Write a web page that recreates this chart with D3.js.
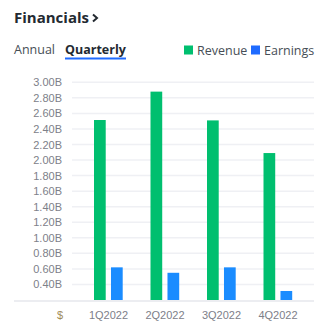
<!DOCTYPE html>
<html><head><meta charset="utf-8">
<script src="https://cdn.jsdelivr.net/npm/d3@7"></script>
<style>
body{margin:0;background:#fff;}
svg{display:block;}
</style></head>
<body>
<script>
const categories = ["1Q2022","2Q2022","3Q2022","4Q2022"];
const seriesNames = ["Revenue","Earnings"];
const revenue = [2.515, 2.88, 2.51, 2.09];
const earnings = [0.62, 0.55, 0.62, 0.316];
const yTicks = [0.4,0.6,0.8,1.0,1.2,1.4,1.6,1.8,2.0,2.2,2.4,2.6,2.8,3.0];
const colors = {Revenue:"#00bf6f", Earnings:"#1a8cff"};
const legendColors = {Revenue:"#00bf6f", Earnings:"#1f6bff"};

const W=323,H=328;
const svg=d3.select("body").append("svg").attr("width",W).attr("height",H);

// header
svg.append("text").attr("x",14).attr("y",23).attr("font-family","Open Sans, sans-serif")
  .attr("font-weight",700).attr("font-size",15).attr("fill","#232a31").text("Financials");
svg.append("path").attr("d","M93,14.5 L97,18 L93,21.5").attr("fill","none").attr("stroke","#232a31").attr("stroke-width",2);

// tabs
svg.append("text").attr("x",14).attr("y",54).attr("font-family","Open Sans, sans-serif")
  .attr("font-size",12.5).attr("fill","#464e56").text("Annual");
svg.append("text").attr("x",65).attr("y",54).attr("font-family","Open Sans, sans-serif")
  .attr("font-weight",700).attr("font-size",12.5).attr("fill","#232a31").text("Quarterly");
svg.append("rect").attr("x",65).attr("y",57.5).attr("width",61).attr("height",2).attr("fill","#1f6bff");

// legend
const lg=svg.append("g");
const lx={Revenue:184, Earnings:251};
seriesNames.forEach(s=>{
  lg.append("rect").attr("x",lx[s]).attr("y",45.5).attr("width",9).attr("height",9).attr("fill",legendColors[s]);
  lg.append("text").attr("x",lx[s]+13).attr("y",54.5).attr("font-family","Open Sans, sans-serif")
    .attr("font-size",12.5).attr("fill","#464e56").text(s);
});

// scales
const y=d3.scaleLinear().domain([0.2,3.0]).range([300,82.3]);
const x=d3.scaleBand().domain(categories).range([80.25,306.25]).paddingInner(0).paddingOuter(0);
const xs=d3.scaleBand().domain(seriesNames).range([13.75,42.45]).paddingInner(0.31).paddingOuter(0);

// gridlines
const yAxis=d3.axisLeft(y).tickValues(yTicks).tickSize(0).tickPadding(0).tickFormat(d=>d.toFixed(2)+"B");
const ga=svg.append("g").attr("transform","translate(62,0)").call(yAxis);
ga.select(".domain").remove();
ga.selectAll("text").attr("font-family","Liberation Sans, Arial, sans-serif").attr("font-size",11).attr("fill","#7d8089");
svg.append("g").selectAll("line").data(yTicks).join("line")
  .attr("x1",72).attr("x2",314).attr("y1",d=>y(d)).attr("y2",d=>y(d))
  .attr("stroke","#eff0f4").attr("stroke-width",1.5);
svg.append("line").attr("x1",14).attr("x2",314).attr("y1",y(0.2)+1).attr("y2",y(0.2)+1)
  .attr("stroke","#e6e7ec").attr("stroke-width",1.5);

// bars
const data=categories.map((c,i)=>({c, vals:[{s:"Revenue",v:revenue[i]},{s:"Earnings",v:earnings[i]}]}));
const gg=svg.append("g").selectAll("g").data(data).join("g").attr("transform",d=>`translate(${x(d.c)},0)`);
gg.selectAll("rect").data(d=>d.vals).join("rect")
  .attr("x",d=>xs(d.s)).attr("width",xs.bandwidth())
  .attr("y",d=>y(d.v)).attr("height",d=>y(0.2)-y(d.v))
  .attr("fill",d=>colors[d.s]);

// x axis
const xAxis=d3.axisBottom(x).tickSize(0).tickPadding(0);
const gx=svg.append("g").attr("transform","translate(0,319)").call(xAxis);
gx.select(".domain").remove();
gx.selectAll("text").attr("dy",0).attr("font-family","Liberation Sans, Arial, sans-serif").attr("font-size",11).attr("fill","#7d8089");
svg.append("text").attr("x",60).attr("y",319).attr("text-anchor","middle")
  .attr("font-family","Liberation Sans, Arial, sans-serif").attr("font-size",11).attr("fill","#a08a5a").text("$");
</script>
</body></html>
